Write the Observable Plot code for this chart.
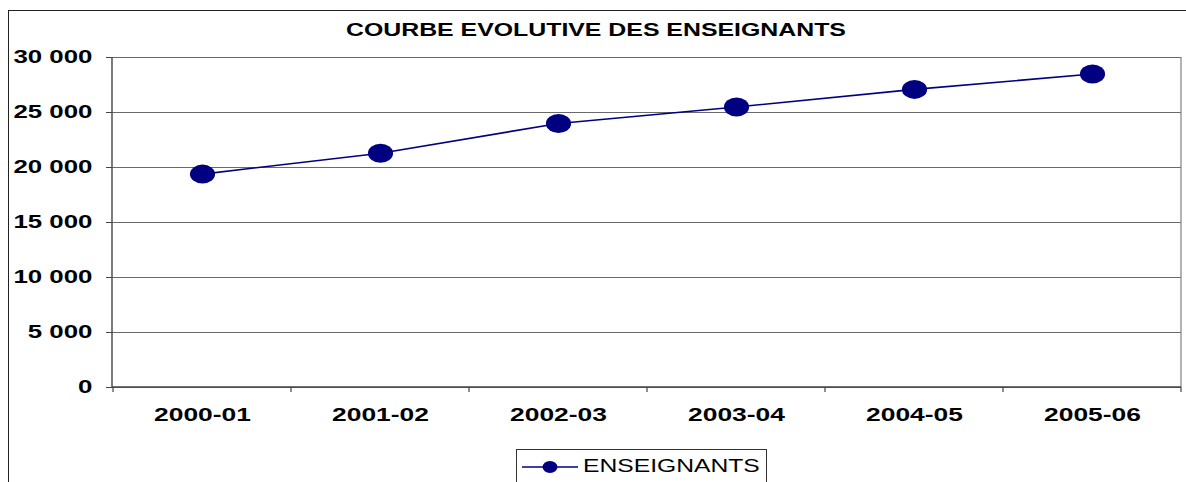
<!DOCTYPE html>
<html>
<head>
<meta charset="utf-8">
<script src="https://cdn.jsdelivr.net/npm/d3@7"></script>
<script src="https://cdn.jsdelivr.net/npm/@observablehq/plot@0.6"></script>
<style>
  body { margin: 0; background: #fff; font-family: Arial, "Liberation Sans", sans-serif; }
  #wrap { position: relative; width: 1186px; height: 482px; overflow: hidden; background: #fff; }
  #chart { position: absolute; left: 0; top: 0; }
  #border-top { position: absolute; left: 8px; top: 10px; width: 1178px; height: 0; border-top: 1.5px solid #222; }
  #border-left { position: absolute; left: 8px; top: 10px; width: 0; height: 472px; border-left: 1.5px solid #222; }
  #title { position: absolute; left: 0; top: 20px; width: 1192px; text-align: center; font-weight: bold; font-size: 18.7px; line-height: 20px; color: #000; }
  #title span { display: inline-block; transform: scaleX(1.33); transform-origin: center; }
  #legend { position: absolute; left: 516px; top: 449px; width: 251px; height: 40px; border: 1px solid #333; box-sizing: border-box; background: #fff; }
  #legend svg { position: absolute; left: 5px; top: 9px; }
  #legend span { position: absolute; left: 66px; top: 6px; font-size: 18px; line-height: 20px; display: inline-block; transform: scaleX(1.37); transform-origin: left center; color: #000; }
</style>
</head>
<body>
<div id="wrap">
  <div id="chart"></div>
  <div id="border-top"></div>
  <div id="border-left"></div>
  <div id="title"><span></span></div>
  <div id="legend"><svg width="58" height="16"></svg><span></span></div>
</div>
<script>
const categories = ["2000-01", "2001-02", "2002-03", "2003-04", "2004-05", "2005-06"];
const enseignants = [19400, 21300, 24000, 25500, 27100, 28500];
const yTicks = [0, 5000, 10000, 15000, 20000, 25000, 30000];
const yTickLabels = ["0", "5 000", "10 000", "15 000", "20 000", "25 000", "30 000"];
const seriesName = "ENSEIGNANTS";
const titleText = "COURBE EVOLUTIVE DES ENSEIGNANTS";

const data = categories.map((c, i) => ({annee: c, valeur: enseignants[i]}));
const navy = "#000080";

// custom mark: plot-area frame (gray right edge, dark left/bottom axes) and category boundary ticks
function plotFrame(index, scales, values, dims) {
  const {x, y} = scales;
  const g = d3.create("svg:g");
  const xl = dims.marginLeft, xr = dims.width - dims.marginRight;
  const y0 = y(0), yTop = y(yTicks[yTicks.length - 1]);
  g.append("line").attr("x1", xr).attr("x2", xr).attr("y1", yTop).attr("y2", y0)
    .attr("stroke", "#808080").attr("stroke-width", 1.2);
  g.append("line").attr("x1", xl).attr("x2", xl).attr("y1", yTop).attr("y2", y0)
    .attr("stroke", "#444").attr("stroke-width", 1.4);
  g.append("line").attr("x1", xl).attr("x2", xr).attr("y1", y0).attr("y2", y0)
    .attr("stroke", "#444").attr("stroke-width", 1.4);
  const bw = x(categories[1]) - x(categories[0]);
  const bounds = categories.map(c => x(c)).concat([x(categories[categories.length - 1]) + bw]);
  for (const b of bounds) {
    g.append("line").attr("x1", b).attr("x2", b).attr("y1", y0).attr("y2", y0 + 5)
      .attr("stroke", "#444").attr("stroke-width", 1.2);
  }
  return g.node();
}

const plot = Plot.plot({
  width: 1186,
  height: 482,
  marginLeft: 112,
  marginRight: 5,
  marginTop: 57,
  marginBottom: 95,
  style: {fontFamily: "Arial, 'Liberation Sans', sans-serif", fontWeight: "bold", background: "transparent", color: "#000"},
  x: {type: "band", domain: categories, padding: 0, label: null},
  y: {domain: [0, 30000], label: null},
  marks: [
    Plot.gridY(yTicks, {stroke: "#6a6a6a", strokeOpacity: 1, strokeWidth: 1.1}),
    plotFrame,
    Plot.axisY(yTicks, {
      tickSize: 6, tickPadding: 14, fontSize: 17.6, stroke: "#444", fill: "#000",
      tickFormat: d => yTickLabels[yTicks.indexOf(d)], label: null
    }),
    Plot.axisX({tickSize: 0, tickPadding: 21, fontSize: 17.6, fill: "#000", label: null}),
    Plot.line(data, {x: "annee", y: "valeur", stroke: navy, strokeWidth: 1.6}),
    Plot.dot(data, {x: "annee", y: "valeur", r: 9.5, fill: navy, stroke: "none"})
  ]
});

document.getElementById("chart").appendChild(plot);

// stretch texts horizontally like the reference
plot.querySelectorAll('g[aria-label="y-axis tick label"] text').forEach(t => {
  t.setAttribute("transform", (t.getAttribute("transform") || "") + " scale(1.47,1)");
});
plot.querySelectorAll('g[aria-label="x-axis tick label"] text').forEach(t => {
  t.setAttribute("transform", (t.getAttribute("transform") || "") + " scale(1.5,1)");
});
// elliptical markers
plot.querySelectorAll('g[aria-label="dot"] circle').forEach(c => {
  const cx = +c.getAttribute("cx"), cy = +c.getAttribute("cy");
  c.setAttribute("transform", `translate(${cx},${cy}) scale(1.32,1) translate(${-cx},${-cy})`);
});

document.querySelector("#title span").textContent = titleText;
document.querySelector("#legend span").textContent = seriesName;
const lg = d3.select("#legend svg");
lg.append("line").attr("x1", 0).attr("x2", 56).attr("y1", 8).attr("y2", 8).attr("stroke", navy).attr("stroke-width", 1.5);
lg.append("ellipse").attr("cx", 28).attr("cy", 8).attr("rx", 7.5).attr("ry", 6).attr("fill", navy);
</script>
</body>
</html>
